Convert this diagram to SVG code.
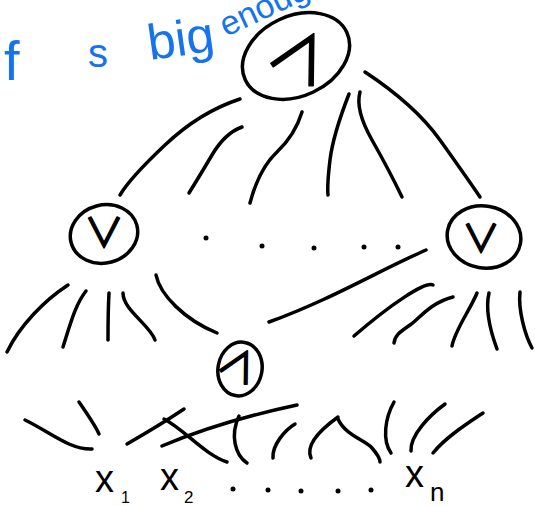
<svg xmlns="http://www.w3.org/2000/svg" width="535" height="506" viewBox="0 0 535 506">
<style>
.s{fill:none;stroke:#000;stroke-width:3.5;stroke-linecap:round;stroke-linejoin:round}
.sym{font-family:"Noto Sans CJK JP","DejaVu Sans",sans-serif;fill:#000;stroke:#000;stroke-width:1.4;stroke-linejoin:round;text-anchor:middle;dominant-baseline:central}
.lab{font-family:"Liberation Sans",sans-serif;fill:#000}
.blue{font-family:"Liberation Sans",sans-serif;fill:#1673ee}
.dot{fill:#000}
</style>
<rect width="535" height="506" fill="#fff"/>
<g id="note">
<text class="blue" x="4" y="80" font-size="56">f</text>
<text class="blue" x="88" y="67" font-size="40">s</text>
<text class="blue" x="150" y="60" font-size="50" transform="rotate(-8 150 60)">big</text>
<text class="blue" x="226" y="37" font-size="34" transform="rotate(-25 226 37)">enough</text>
</g>
<g id="connectors">
<path class="s" d="M240,99 Q200,112 165,145 T120,195"/>
<path class="s" d="M242,127 Q225,133 212,155 T189,193"/>
<path class="s" d="M302,112 Q295,135 277,152 T250,203"/>
<path class="s" d="M349,94 Q333,135 330,160 T328,195"/>
<path class="s" d="M360,92 Q355,110 372,140 T402,197"/>
<path class="s" d="M365,72 Q415,105 440,140 T480,197"/>
<path class="s" d="M68,285 C45,300 20,325 7,352"/>
<path class="s" d="M86,291 C75,305 70,325 63,347"/>
<path class="s" d="M109,293 C108,310 108,325 108,340"/>
<path class="s" d="M123,293 C123,310 150,325 155,340"/>
<path class="s" d="M156,275 C160,295 185,320 217,333"/>
<path class="s" d="M269,322 C330,300 380,270 426,250"/>
<path class="s" d="M433,285 C425,281 390,305 354,336"/>
<path class="s" d="M453,297 C430,303 420,318 410,325 S395,335 394,343"/>
<path class="s" d="M477,293 C470,310 455,330 452,346"/>
<path class="s" d="M489,293 C485,310 490,330 497,349"/>
<path class="s" d="M520,292 C518,310 525,335 532,348"/>
<path class="s" d="M25,420 C50,432 70,450 92,449"/>
<path class="s" d="M79,402 C88,415 95,425 99,434"/>
<path class="s" d="M127,444 Q160,425 184,409"/>
<path class="s" d="M164,419 C185,430 205,455 227,462"/>
<path class="s" d="M162,446 C200,430 250,415 297,405"/>
<path class="s" d="M239,416 C230,435 235,455 247,463"/>
<path class="s" d="M295,424 C285,430 272,445 273,458"/>
<path class="s" d="M338,417 C320,430 305,445 311,458"/>
<path class="s" d="M338,419 C345,435 365,440 372,448 S380,460 380,462"/>
<path class="s" d="M394,402 C385,418 382,440 391,453"/>
<path class="s" d="M445,404 C430,415 410,435 411,451"/>
<path class="s" d="M483,413 C465,425 445,438 433,453"/>
</g>
<g id="n-top">
<ellipse class="s" cx="296" cy="56" rx="56" ry="40" transform="rotate(-25 296 56)"/>
<text class="sym" x="304" y="52" font-size="62" transform="rotate(28 304 52)">∧</text>
</g>
<g id="n-left">
<ellipse class="s" cx="104" cy="234" rx="34" ry="29" transform="rotate(-15 104 234)"/>
<text class="sym" x="104" y="230" font-size="40">∨</text>
</g>
<g id="n-right">
<ellipse class="s" cx="484" cy="237" rx="37" ry="31" transform="rotate(10 484 237)"/>
<text class="sym" x="481" y="235" font-size="38">∨</text>
</g>
<g id="n-bottom">
<ellipse class="s" cx="240" cy="369" rx="22" ry="27" transform="rotate(10 240 369)"/>
<text class="sym" x="241" y="363" font-size="40" transform="rotate(28 241 363)">∧</text>
</g>
<g id="dots-mid">
<circle class="dot" cx="206" cy="238" r="2.5"/>
<circle class="dot" cx="262" cy="246" r="2.5"/>
<circle class="dot" cx="314" cy="248" r="2.5"/>
<circle class="dot" cx="364" cy="247" r="2.5"/>
<circle class="dot" cx="398" cy="247" r="2.5"/>
</g>
<g id="inputs">
<text class="lab" x="95" y="492" font-size="38">x</text>
<text class="lab" x="121" y="503" font-size="16">1</text>
<text class="lab" x="160" y="490" font-size="38">x</text>
<text class="lab" x="184" y="503" font-size="17">2</text>
<text class="lab" x="405" y="487" font-size="38">x</text>
<text class="lab" x="430" y="501" font-size="26">n</text>
<circle class="dot" cx="233" cy="489" r="2.5"/>
<circle class="dot" cx="268" cy="490" r="2.5"/>
<circle class="dot" cx="301" cy="491" r="2.5"/>
<circle class="dot" cx="338" cy="491" r="2.5"/>
<circle class="dot" cx="371" cy="490" r="2.5"/>
</g>
</svg>
